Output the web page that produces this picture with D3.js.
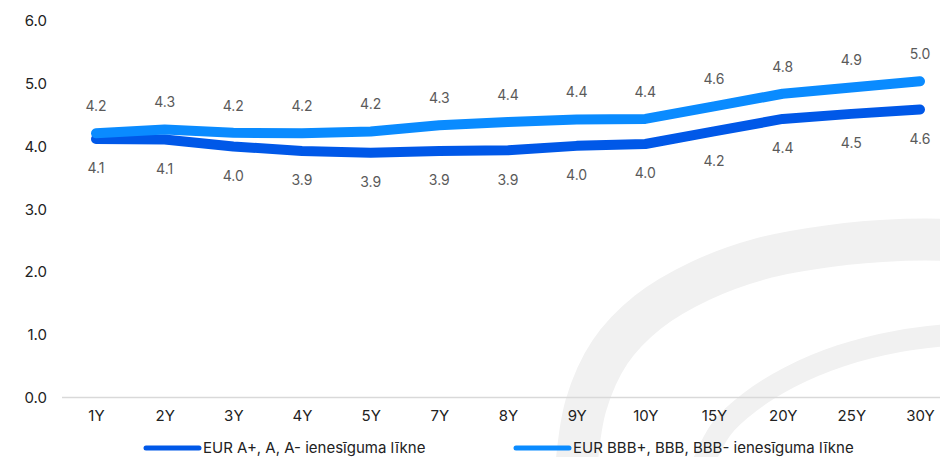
<!DOCTYPE html>
<html>
<head>
<meta charset="utf-8">
<script src="https://cdn.jsdelivr.net/npm/d3@7"></script>
<style>
  body { margin: 0; background: #fff; }
  svg text { font-family: Inter, "Noto Sans", sans-serif; }
</style>
</head>
<body>
<svg class="chart" width="940" height="457"></svg>
<script>
// Data
var tenors = ["1Y", "2Y", "3Y", "4Y", "5Y", "7Y", "8Y", "9Y", "10Y", "15Y", "20Y", "25Y", "30Y"];
var ratingA = [4.12, 4.11, 4.00, 3.93, 3.90, 3.93, 3.94, 4.01, 4.04, 4.24, 4.44, 4.52, 4.59];
var ratingBBB = [4.21, 4.27, 4.22, 4.21, 4.24, 4.34, 4.39, 4.43, 4.44, 4.64, 4.84, 4.94, 5.04];
var yTicks = [0, 1, 2, 3, 4, 5, 6];
var seriesNames = ["EUR A+, A, A- ienesīguma līkne", "EUR BBB+, BBB, BBB- ienesīguma līkne"];

var colorA = "#0058e8";
var colorBBB = "#0a8bff";
var font = "Inter, sans-serif";

var chart = d3.select(".chart");

// Scales
var xScale = d3.scalePoint().domain(tenors).range([96, 920]);
var yScale = d3.scaleLinear().domain([0, 6]).range([397.5, 21]);

// Background watermark (two light arcs)
var bgLine = d3.line().curve(d3.curveCatmullRom);
chart.append("path")
    .attr("d", bgLine([[576, 470], [586, 405], [610, 352], [648, 312], [700, 281], [760, 259], [830, 246], [900, 240], [960, 240]]))
    .attr("fill", "none")
    .attr("stroke", "#f1f1f1")
    .attr("stroke-width", 42);
chart.append("path")
    .attr("d", bgLine([[700, 470], [722, 428], [750, 402], [790, 377], [840, 356], [900, 341], [960, 334]]))
    .attr("fill", "none")
    .attr("stroke", "#f1f1f1")
    .attr("stroke-width", 22);

// Zero gridline
chart.append("line")
    .attr("x1", 62).attr("x2", 940)
    .attr("y1", yScale(0)).attr("y2", yScale(0))
    .attr("stroke", "#d9d9d9")
    .attr("stroke-width", 1.5);

// Y axis
var yAxis = d3.axisLeft(yScale).tickValues(yTicks).tickFormat(d3.format(".1f")).tickSize(0).tickPadding(0);
var yg = chart.append("g").attr("transform", "translate(47,0)").call(yAxis);
yg.select(".domain").remove();
yg.selectAll("text").attr("font-size", 15).attr("fill", "#222").attr("font-family", font);

// X axis
var xAxis = d3.axisBottom(xScale).tickSize(0).tickPadding(0);
var xg = chart.append("g").attr("transform", "translate(0,410)").call(xAxis);
xg.select(".domain").remove();
xg.selectAll("text").attr("font-size", 15).attr("fill", "#222").attr("font-family", font);

// Lines
var line = d3.line()
    .x(function(d, i) { return xScale(tenors[i]); })
    .y(function(d) { return yScale(d); });

chart.append("path")
    .attr("d", line(ratingA))
    .attr("fill", "none")
    .attr("stroke", colorA)
    .attr("stroke-width", 10)
    .attr("stroke-linecap", "round")
    .attr("stroke-linejoin", "round");

chart.append("path")
    .attr("d", line(ratingBBB))
    .attr("fill", "none")
    .attr("stroke", colorBBB)
    .attr("stroke-width", 10)
    .attr("stroke-linecap", "round")
    .attr("stroke-linejoin", "round");

// Data labels
var fmt = d3.format(".1f");
chart.append("g").selectAll("text")
    .data(ratingBBB)
    .enter()
    .append("text")
    .attr("x", function(d, i) { return xScale(tenors[i]); })
    .attr("y", function(d) { return yScale(d) - 27; })
    .attr("dy", "0.35em")
    .attr("text-anchor", "middle")
    .attr("font-size", 14)
    .attr("fill", "#5a5a5a")
    .text(function(d) { return fmt(d); });

chart.append("g").selectAll("text")
    .data(ratingA)
    .enter()
    .append("text")
    .attr("x", function(d, i) { return xScale(tenors[i]); })
    .attr("y", function(d) { return yScale(d) + 29.5; })
    .attr("dy", "0.35em")
    .attr("text-anchor", "middle")
    .attr("font-size", 14)
    .attr("fill", "#5a5a5a")
    .text(function(d) { return fmt(d); });

// Legend
var legendX = [146, 516];
var legendColors = [colorA, colorBBB];
var legend = chart.append("g").selectAll("g")
    .data(seriesNames)
    .enter()
    .append("g")
    .attr("transform", function(d, i) { return "translate(" + legendX[i] + ",448)"; });
legend.append("line")
    .attr("x1", 0).attr("x2", 53)
    .attr("stroke", function(d, i) { return legendColors[i]; })
    .attr("stroke-width", 5)
    .attr("stroke-linecap", "round");
legend.append("text")
    .attr("x", 57)
    .attr("dy", "0.35em")
    .attr("font-size", 15)
    .attr("fill", "#222")
    .text(function(d) { return d; });
</script>
</body>
</html>
